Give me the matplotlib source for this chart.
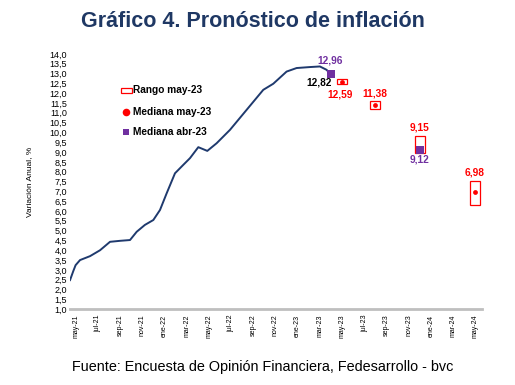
import matplotlib.pyplot as plt
import numpy as np

plt.rcParams['font.family'] = ['Liberation Sans', 'DejaVu Sans']

# months counted from may-21 (= 0)
line_x = [-0.5, -0.2, 0, 0.4, 1.3, 2.2, 3.1, 4.0, 4.9, 5.5, 6.24, 7.0, 7.6, 8.2, 8.95,
          9.7, 10.3, 11.05, 11.86, 12.7, 13.9, 15.4, 16.9, 17.8, 19.0, 19.9, 21.1, 22.0,
          22.6, 23.0]
line_y = [2.48, 2.95, 3.24, 3.5, 3.7, 4.0, 4.43, 4.48, 4.52, 4.94, 5.29, 5.54, 6.05, 6.9,
          7.92, 8.35, 8.69, 9.25, 9.06, 9.45, 10.13, 11.15, 12.17, 12.48, 13.1, 13.28,
          13.33, 13.36, 13.19, 12.94]

box_x = [24, 27, 31, 36]
box_low = [12.49, 11.17, 8.97, 6.31]
box_high = [12.70, 11.58, 9.84, 7.53]
median_may = [12.59, 11.38, 9.15, 6.98]

abr_x = [23, 31]
median_abr = [12.96, 9.12]
last_obs = 12.82

month_abbr = ['ene', 'feb', 'mar', 'abr', 'may', 'jun', 'jul', 'ago', 'sep', 'oct', 'nov', 'dic']
tick_pos = list(range(0, 37, 2))
tick_labels = [f'{month_abbr[(4 + p) % 12]}-{21 + (4 + p) // 12}' for p in tick_pos]

red = '#ff0000'
purple = '#7030a0'
navy = '#1f3a6e'

fig = plt.figure(figsize=(5.15, 3.85), dpi=100)
ax = fig.add_axes([0.136, 0.197, 0.800, 0.663])

ax.plot(line_x, line_y, color=navy, lw=1.4, zorder=2, solid_joinstyle='round')

# range boxes
w = 0.9
for x, lo, hi in zip(box_x, box_low, box_high):
    ax.add_patch(plt.Rectangle((x - w / 2, lo), w, hi - lo, facecolor='white',
                               edgecolor=red, lw=0.9, zorder=3))
ax.scatter(box_x, median_may, color=red, s=12, zorder=4, linewidths=0)
ax.scatter(abr_x, median_abr, color=purple, marker='s', s=26, zorder=5, linewidths=0)

# value labels
fs = 7.3
lab = dict(fontsize=fs, fontweight='bold', ha='center', va='center')
ax.text(22.95, 13.65, f'{median_abr[0]:.2f}'.replace('.', ','), color=purple, **lab)
ax.text(23.1, 12.53, f'{last_obs:.2f}'.replace('.', ','), color='black', fontsize=fs,
        fontweight='bold', ha='right', va='center')
ax.text(23.85, 11.95, f'{median_may[0]:.2f}'.replace('.', ','), color=red, **lab)
ax.text(26.96, 12.0, f'{median_may[1]:.2f}'.replace('.', ','), color=red, **lab)
ax.text(31.0, 10.25, f'{median_may[2]:.2f}'.replace('.', ','), color=red, **lab)
ax.text(31.0, 8.6, f'{median_abr[1]:.2f}'.replace('.', ','), color=purple, **lab)
ax.text(35.9, 7.95, f'{median_may[3]:.2f}'.replace('.', ','), color=red, **lab)

# legend drawn by hand
ax.add_patch(plt.Rectangle((4.05, 12.02), 1.05, 0.24, facecolor='white',
                           edgecolor=red, lw=0.9))
ax.text(5.2, 12.14, 'Rango may-23', fontsize=fs, fontweight='bold', va='center')
ax.scatter([4.5], [11.04], color=red, s=30, linewidths=0)
ax.text(5.2, 11.04, 'Mediana may-23', fontsize=fs, fontweight='bold', va='center')
ax.scatter([4.5], [10.0], color=purple, marker='s', s=20, linewidths=0)
ax.text(5.2, 10.0, 'Mediana abr-23', fontsize=fs, fontweight='bold', va='center')

ax.set_xlim(-0.5, 36.6)
ax.set_ylim(1, 14)
yt = np.arange(1, 14.01, 0.5)
ax.set_yticks(yt)
ax.set_yticklabels([f'{v:.1f}'.replace('.', ',') for v in yt], fontsize=6.5)
ax.set_xticks(tick_pos)
ax.set_xticklabels(tick_labels, rotation=90, fontsize=5)
ax.tick_params(length=0, pad=2)
ax.tick_params(axis='x', pad=4)
for s in ['top', 'right', 'left']:
    ax.spines[s].set_visible(False)
ax.spines['bottom'].set_color('#bfbfbf')
ax.spines['bottom'].set_linewidth(2)
ax.set_ylabel('Variación Anual, %', fontsize=6, labelpad=12)

fig.text(0.492, 0.945, 'Gráfico 4. Pronóstico de inflación', fontsize=15.5, fontweight='bold',
         color='#1f3864', ha='center', va='center')
fig.text(0.511, 0.047, 'Fuente: Encuesta de Opinión Financiera, Fedesarrollo - bvc', fontsize=10.4,
         ha='center', va='center')

fig.savefig('out.png', dpi=100)
